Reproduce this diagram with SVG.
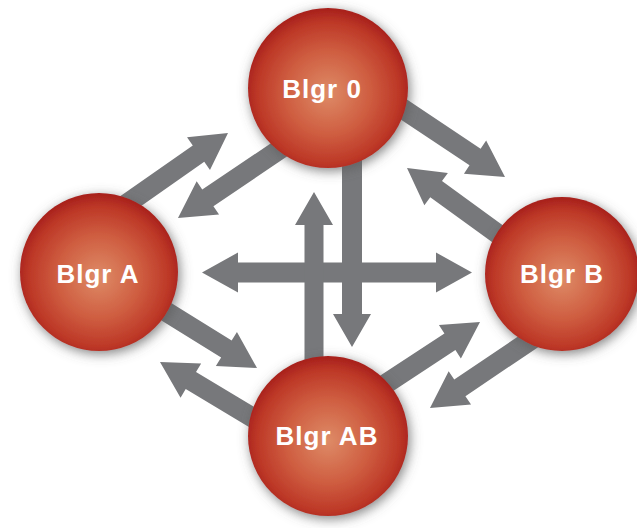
<svg xmlns="http://www.w3.org/2000/svg" width="637" height="528" viewBox="0 0 637 528">
<style>
.arr{fill:#77787b}
.ball{fill:url(#rg);filter:url(#sh)}
.lbl{font-family:"Liberation Sans",Arial,sans-serif;font-weight:bold;font-size:26px;letter-spacing:1px;fill:#ffffff;text-anchor:middle}
</style>
<defs>
<radialGradient id="rg" cx="50%" cy="53%" r="52%">
<stop offset="0" stop-color="#de8b67"/>
<stop offset="0.5" stop-color="#cf5e41"/>
<stop offset="0.85" stop-color="#bd3827"/>
<stop offset="1" stop-color="#a9221d"/>
</radialGradient>
<filter id="sh" x="-30%" y="-30%" width="160%" height="160%">
<feGaussianBlur in="SourceAlpha" stdDeviation="6"/>
<feOffset dx="2" dy="3" result="b"/>
<feFlood flood-color="#5a5a5a" flood-opacity="0.75"/>
<feComposite in2="b" operator="in"/>
<feMerge><feMergeNode/><feMergeNode in="SourceGraphic"/></feMerge>
</filter>
</defs>
<g id="connectors">
<path class="arr" transform="translate(228,133) rotate(-35)" d="M-126,-10 H-36 V-20 L0,0 L-36,20 V10 H-126 Z"/>
<path class="arr" transform="translate(178,218) rotate(146)" d="M-130,-10 H-36 V-20 L0,0 L-36,20 V10 H-130 Z"/>
<path class="arr" transform="translate(505,177) rotate(33.7)" d="M-125,-10 H-36 V-20 L0,0 L-36,20 V10 H-125 Z"/>
<path class="arr" transform="translate(407,168) rotate(216)" d="M-120,-10 H-36 V-20 L0,0 L-36,20 V10 H-120 Z"/>
<path class="arr" transform="translate(257,368) rotate(31.8)" d="M-120,-10 H-36 V-20 L0,0 L-36,20 V10 H-120 Z"/>
<path class="arr" transform="translate(160,362) rotate(211)" d="M-120,-10 H-36 V-20 L0,0 L-36,20 V10 H-120 Z"/>
<path class="arr" transform="translate(480,322) rotate(-33.3)" d="M-120,-10 H-36 V-20 L0,0 L-36,20 V10 H-120 Z"/>
<path class="arr" transform="translate(430,408) rotate(146)" d="M-125,-10 H-36 V-20 L0,0 L-36,20 V10 H-125 Z"/>
<path class="arr" d="M202,272.5 L238,252.5 V262.5 H436 V252.5 L472,272.5 L436,292.5 V282.5 H238 V292.5 Z"/>
<path class="arr" d="M314,192 L333,225 H323.5 V375 H304.5 V225 H295 Z"/>
<path class="arr" d="M352,347 L371,314 H362 V160 H342 V314 H333 Z"/>
</g>
<g id="node-0">
<circle class="ball" cx="328" cy="88" r="80"/>
<text class="lbl" x="322" y="98">Blgr 0</text>
</g>
<g id="node-A">
<circle class="ball" cx="99" cy="272" r="79"/>
<text class="lbl" x="98" y="283">Blgr A</text>
</g>
<g id="node-B">
<circle class="ball" cx="562" cy="274" r="77"/>
<text class="lbl" x="562" y="283">Blgr B</text>
</g>
<g id="node-AB">
<circle class="ball" cx="328" cy="436" r="80"/>
<text class="lbl" x="327" y="445">Blgr AB</text>
</g>
</svg>
